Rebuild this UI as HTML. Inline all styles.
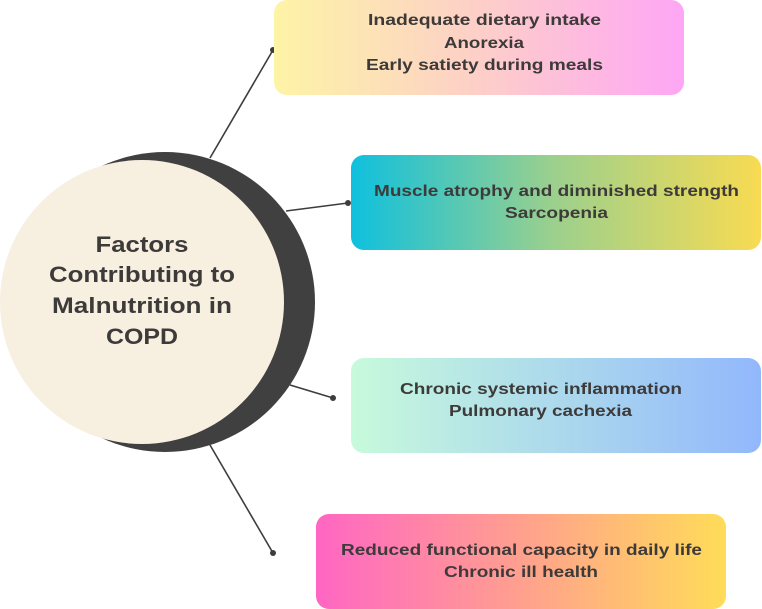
<!DOCTYPE html>
<html><head><meta charset="utf-8"><style>
html,body{margin:0;padding:0;background:#fff;}
svg{display:block;}
text{font-family:"Liberation Sans",sans-serif;font-weight:bold;fill:#3d3a3a;}
</style></head><body>
<svg width="762" height="609" viewBox="0 0 762 609" xmlns="http://www.w3.org/2000/svg">
<defs>
<linearGradient id="g1" x1="0" x2="1" y1="0" y2="0"><stop offset="0" stop-color="#fdf4a6"/><stop offset="0.5" stop-color="#fdcfc8"/><stop offset="1" stop-color="#fea6f6"/></linearGradient>
<linearGradient id="g2" x1="0" x2="1" y1="0" y2="0"><stop offset="0" stop-color="#0fc0de"/><stop offset="0.5" stop-color="#9dd08c"/><stop offset="1" stop-color="#f8db52"/></linearGradient>
<linearGradient id="g3" x1="0" x2="1" y1="0" y2="0"><stop offset="0" stop-color="#c7fadc"/><stop offset="1" stop-color="#92b8fc"/></linearGradient>
<linearGradient id="g4" x1="0" x2="1" y1="0" y2="0"><stop offset="0" stop-color="#ff66c3"/><stop offset="0.5" stop-color="#ffa08e"/><stop offset="1" stop-color="#ffdc58"/></linearGradient>
</defs>
<g stroke="#3d3d3d" stroke-width="1.6">
<line x1="210" y1="158" x2="273" y2="50"/>
<line x1="286" y1="211" x2="348" y2="203"/>
<line x1="290" y1="385" x2="333" y2="398"/>
<line x1="210" y1="445" x2="273" y2="553"/>
</g>
<g fill="#3d3d3d">
<circle cx="273" cy="50" r="3"/><circle cx="348" cy="203" r="3"/><circle cx="333" cy="398" r="3"/><circle cx="273" cy="553" r="3"/>
</g>
<circle cx="165" cy="302" r="150" fill="#404040"/>
<circle cx="142" cy="302" r="142" fill="#f7efe0"/>
<rect x="274" y="0" width="410" height="95" rx="13" fill="url(#g1)"/>
<rect x="351" y="155" width="410" height="95" rx="13" fill="url(#g2)"/>
<rect x="351" y="358" width="410" height="95" rx="13" fill="url(#g3)"/>
<rect x="316" y="514" width="410" height="95" rx="13" fill="url(#g4)"/>
<g font-size="16" text-anchor="middle">
<text x="484.5" y="25" textLength="233" lengthAdjust="spacingAndGlyphs">Inadequate dietary intake</text>
<text x="484" y="48" textLength="80" lengthAdjust="spacingAndGlyphs">Anorexia</text>
<text x="484.5" y="70" textLength="237" lengthAdjust="spacingAndGlyphs">Early satiety during meals</text>
<text x="556.5" y="196" textLength="365" lengthAdjust="spacingAndGlyphs">Muscle atrophy and diminished strength</text>
<text x="556.5" y="218" textLength="103" lengthAdjust="spacingAndGlyphs">Sarcopenia</text>
<text x="541" y="394" textLength="282" lengthAdjust="spacingAndGlyphs">Chronic systemic inflammation</text>
<text x="540.5" y="416" textLength="183" lengthAdjust="spacingAndGlyphs">Pulmonary cachexia</text>
<text x="521.5" y="555" textLength="361" lengthAdjust="spacingAndGlyphs">Reduced functional capacity in daily life</text>
<text x="521" y="577" textLength="154" lengthAdjust="spacingAndGlyphs">Chronic ill health</text>
</g>
<g font-size="22" text-anchor="middle">
<text x="142" y="252" textLength="93" lengthAdjust="spacingAndGlyphs">Factors</text>
<text x="142" y="282" textLength="186" lengthAdjust="spacingAndGlyphs">Contributing to</text>
<text x="142" y="313" textLength="180" lengthAdjust="spacingAndGlyphs">Malnutrition in</text>
<text x="142" y="344" textLength="72" lengthAdjust="spacingAndGlyphs">COPD</text>
</g>
</svg>
</body></html>
